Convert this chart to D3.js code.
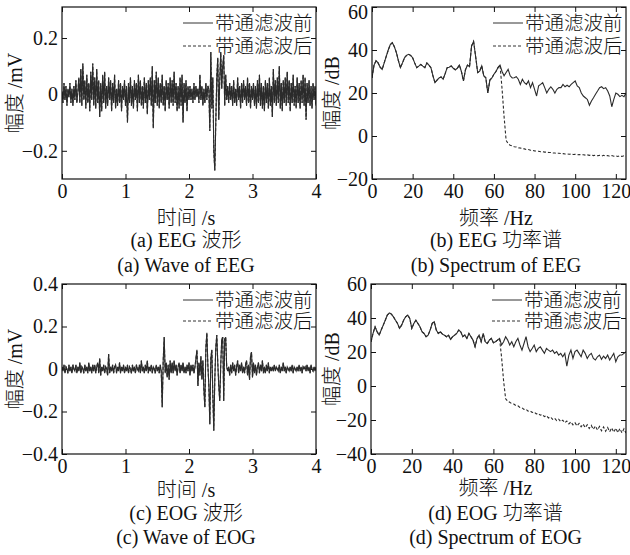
<!DOCTYPE html>
<html lang="zh">
<head>
<meta charset="UTF-8">
<title>EEG / EOG 带通滤波前后</title>
<style>
  body { margin: 0; background: #fff; }
  svg { display: block; }
  text { font-family: "Liberation Serif", "Times New Roman", "Noto Sans CJK SC", serif; font-weight: 300; fill: #111; }
</style>
</head>
<body>
<svg width="630" height="555"></svg>
<script src="https://d3js.org/d3.v7.min.js"></script>
<script>
// ---- data ----
const legendLabels = ["带通滤波前", "带通滤波后"];

// time axis: 4 s, samples read at 1/64 s
const waveDuration = 4;

// (a) EEG waveform, mV
const eegWave = [
  0.01,-0.03,0.04,-0.02,0.03,-0.04,0.02,-0.01,0.04,-0.03,0.02,-0.04,0.03,-0.02,0.05,-0.03,0.01,
  0.06,-0.03,0.09,-0.04,0.11,-0.02,0.05,-0.05,0.07,-0.03,0.04,-0.06,0.08,-0.02,0.11,-0.04,0.06,-0.05,0.09,-0.03,0.05,-0.08,
  0.04,-0.06,0.07,-0.03,0.08,-0.05,0.03,-0.04,0.06,-0.02,0.05,-0.06,0.04,-0.03,0.07,-0.05,0.02,-0.04,0.05,-0.03,0.04,-0.06,0.03,-0.02,0.05,-0.04,
  0.03,-0.10,0.04,-0.03,0.06,-0.04,0.03,-0.05,0.05,-0.02,0.04,-0.06,0.07,-0.03,0.05,-0.04,0.03,-0.05,0.06,-0.03,0.04,-0.07,0.05,-0.02,0.06,-0.04,0.10,-0.12,0.05,-0.03,0.08,-0.04,
  0.06,-0.05,0.04,-0.03,0.07,-0.04,0.03,-0.06,0.05,-0.02,0.04,-0.05,0.06,-0.03,0.05,-0.04,0.08,-0.03,0.04,-0.06,0.03,-0.05,0.06,-0.04,0.07,-0.10,0.04,-0.03,0.05,-0.06,0.03,-0.02,
  0.03,-0.02,0.02,-0.03,0.04,-0.02,0.03,-0.01,0.02,-0.03,0.07,-0.02,0.03,-0.04,0.02,-0.03,0.04,-0.02,0.03,
  0.02,-0.13,0.15,-0.05,0.06,-0.20,-0.27,-0.10,0.06,0.13,-0.09,0.05,0.15,0.02,0.10,0.14,-0.04,0.07,-0.02,0.03,
  -0.03,0.04,-0.02,0.03,-0.04,0.05,-0.03,0.02,-0.04,0.06,-0.02,0.03,-0.05,0.04,-0.03,0.05,-0.02,0.03,-0.04,0.06,-0.03,0.04,-0.05,0.03,-0.02,
  0.04,-0.04,0.03,-0.05,0.05,-0.03,0.07,-0.04,0.04,-0.05,0.03,-0.06,0.05,-0.03,0.04,-0.05,0.06,-0.04,0.03,-0.08,0.09,-0.03,0.05,-0.04,0.06,-0.03,0.10,-0.05,0.04,-0.06,0.05,-0.03,
  0.06,-0.04,0.08,-0.03,0.05,-0.06,0.04,-0.03,0.07,-0.04,0.03,-0.05,0.06,-0.03,0.04,-0.05,0.05,-0.03,0.07,-0.04,0.06,-0.09,0.04,-0.03,0.05,-0.04,0.03,-0.05,0.04,-0.02,0.03,-0.04
];
// after filtering the trace lies on top of the original at this scale
const eegWaveFiltered = eegWave;

// (c) EOG waveform, mV
const eogWave = [
  0.01,-0.01,0.02,-0.02,0.01,0.00,-0.02,0.02,-0.01,0.01,-0.02,0.02,0.00,-0.01,0.02,-0.02,0.01,-0.01,0.03,-0.02,0.01,0.00,-0.02,0.02,-0.01,0.01,-0.02,0.03,-0.01,0.01,-0.02,0.02,
  -0.01,0.02,-0.02,0.01,0.03,-0.02,0.05,-0.03,0.01,-0.01,0.02,-0.02,0.01,0.00,-0.03,0.07,-0.02,0.01,-0.01,0.02,-0.02,0.01,0.02,-0.02,0.01,-0.01,0.03,-0.02,0.01,-0.01,0.02,-0.02,
  0.01,-0.01,0.02,-0.02,0.01,0.00,-0.02,0.02,-0.01,0.01,-0.02,0.02,0.00,-0.01,0.02,-0.02,0.04,-0.01,0.01,-0.02,0.02,-0.01,0.04,-0.02,0.01,-0.01,0.02,-0.02,0.01,0.00,-0.02,0.02,
  -0.01,0.01,-0.02,0.02,-0.01,-0.18,0.04,0.15,-0.02,0.03,-0.04,0.02,-0.05,0.04,-0.02,0.03,
  -0.02,0.04,-0.01,0.02,-0.03,0.01,0.03,-0.02,0.02,-0.01,0.03,-0.02,0.01,-0.02,0.02,-0.01,0.03,-0.03,0.02,-0.01,0.02,-0.02,0.01,
  0.05,0.09,-0.08,0.03,-0.03,0.06,-0.05,0.04,-0.10,-0.18,0.10,0.17,0.02,-0.08,-0.26,0.05,0.09,-0.12,-0.29,-0.05,0.10,0.16,0.03,-0.08,-0.15,0.02,0.14,0.15,-0.15,0.14,0.15,0.01,-0.01,
  0.01,-0.03,0.02,-0.02,0.03,-0.01,0.02,-0.03,0.01,0.04,-0.02,0.02,-0.01,0.03,-0.02,0.01,-0.02,0.02,0.04,-0.03,0.02,-0.05,0.06,0.08,-0.04,0.03,-0.02,0.02,-0.03,0.01,0.03,-0.02,0.02,-0.01,0.04,-0.02,0.01,-0.02,0.02,-0.01,0.03,-0.02,0.01,-0.01,
  0.01,-0.01,0.02,-0.01,0.01,0.00,-0.01,0.02,-0.02,0.01,-0.01,0.03,-0.01,0.01,-0.02,0.01,0.00,-0.01,0.01,-0.01,0.02,-0.02,0.01,0.00,-0.01,0.01,-0.01,0.02,-0.01,0.01,-0.02,0.01,0.00,0.01,-0.01,0.02,-0.01,0.01,-0.02,0.02,0.00,-0.01,0.01,-0.01,0.01
];
const eogWaveFiltered = eogWave;

// spectra: one value per Hz, 0..125 Hz, dB
const eegSpec = [
  27,33,35,34,32,31,34,37,40,42.5,
  43.4,41.5,38.8,35,31.8,34,36.4,37.5,38,37.5,
  36.4,34,31.8,32.5,33.3,32.5,31.8,34,33,31.8,
  28,24.8,26,27,27.5,26.4,29,31.8,32,32.6,
  31.5,30.8,31.5,33,30,25.6,30.8,33,32.2,41.9,
  44,37,29.5,30.2,32.6,28,27.1,20,26,27,
  28.7,30,31.8,33,30,28,29.5,31,28,27,
  27.1,27.6,26.4,24,26.4,24.8,24,25.6,22.5,24.8,
  21.7,18.6,23.3,24,24.8,22.5,20,21.7,22.9,21.7,
  20,21.7,22.5,22.5,24,22.9,23.6,22.9,24,24.8,
  25.6,23.3,22.5,20,18.6,17.8,17,14.3,16.3,17.8,
  19.4,20.9,22.5,22.9,22,22.5,20.9,18.6,13.6,17,
  20,19.4,18.3,18.9,18.3,20
];
// filtered spectrum follows the original up to 63 Hz, then from 64 Hz:
const eegSpecFilteredTail = [
  22,9,-2,-3.6,-4.3,-4.6,-5.0,-5.1,-5.5,-5.6,-5.9,-6.0,-6.3,-6.3,-6.6,-6.7,
  -6.9,-7.0,-7.1,-7.3,-7.3,-7.5,-7.5,-7.7,-7.7,-7.9,-7.9,-8.1,-8.0,-8.2,-8.2,-8.4,
  -8.3,-8.5,-8.4,-8.6,-8.5,-8.7,-8.6,-8.8,-8.7,-8.9,-8.8,-9.0,-8.8,-9.1,-8.9,-9.2,
  -9.0,-9.3,-9.0,-9.3,-9.1,-9.4,-9.1,-9.4,-9.2,-9.5,-9.2,-9.5,-9.2,-9.4
];

const eogSpec = [
  26,31,34.8,31.9,30,32.9,35.8,38.7,41.7,43,
  42.3,40.7,38.7,36.8,33.9,35.8,38.7,40.7,41.7,39.7,
  33.9,36.8,38.7,36.8,34.8,31.9,30.9,29,29.9,32.9,
  36.8,37.8,32.9,30.9,31.9,30.5,29.9,29,29.9,27.4,
  29,29.9,30.9,32.9,31.9,29,29.9,28,30.9,29,
  27,23.1,28,29.9,26,30.9,26,25,27,28,
  25.4,26,27,28,24.1,26,29,27,24.1,26,
  23.1,26,28,24.1,21.1,25,29,23.1,20.2,22.1,
  24.1,20.2,22.1,23.1,21.1,19.2,22.1,21.1,20.2,21.1,
  19.2,20.2,18.2,19.2,17.2,19.2,11.7,18.2,21.1,16.2,
  20.2,21.1,19.2,17.2,21.1,19.2,16.2,18.2,19.2,16.2,
  15.3,17.2,18.2,15.7,17.6,16.2,18.2,15.3,17.2,19.2,
  14.3,17.2,18.2,18.2,19.2,20.2
];
const eogSpecFilteredTail = [
  17,3,-7.5,-8.9,-9.6,-10.4,-10.6,-11.5,-11.7,-12.6,-12.8,-13.8,-13.7,-14.8,-14.6,-15.6,
  -15.3,-16.4,-16.1,-17.2,-16.8,-18.0,-17.5,-18.8,-18.2,-19.6,-18.9,-20.3,-19.5,-21.0,-20.1,-21.6,
  -20.6,-22.3,-21.1,-22.9,-21.6,-23.5,-22.0,-24.0,-22.4,-24.5,-22.8,-25.0,-23.2,-25.5,-23.5,-25.9,
  -23.8,-26.3,-24.1,-26.6,-24.4,-26.9,-24.6,-27.2,-24.8,-27.4,-25.0,-27.6,-25.2,-27.7
];
const filterCutHz = 64;

const timeTicks = [0, 1, 2, 3, 4];
const freqTicks = [0, 20, 40, 60, 80, 100, 120];
const eegWaveTicks = [-0.2, 0, 0.2];
const eogWaveTicks = [-0.4, -0.2, 0, 0.2, 0.4];
const eegSpecTicks = [-20, 0, 20, 40, 60];
const eogSpecTicks = [-40, -20, 0, 20, 40, 60];

// ---- build ----
const svg = d3.select("svg");
const lineColor = "#2b2b2b";

const waveTimes = arr => arr.map((_, i) => i * waveDuration / (arr.length - 1));
const specFreqs = arr => arr.map((_, i) => i);

const panels = [
  {
    id: "a", box: [62, 7, 316, 179], xDomain: [0, 4], yDomain: [-0.3, 0.31],
    xTicks: timeTicks, yTicks: eegWaveTicks,
    xs: waveTimes(eegWave), before: eegWave, after: eegWaveFiltered,
    xsAfter: waveTimes(eegWaveFiltered),
    xlabel: "时间 /s", ylabel: "幅度 /mV", ylabelX: 15,
    titles: ["(a) EEG 波形", "(a) Wave of EEG"], textY: [218, 240, 265], legendY: [23, 46]
  },
  {
    id: "b", box: [372, 7, 626, 179], xDomain: [0, 125], yDomain: [-20, 60],
    xTicks: freqTicks, yTicks: eegSpecTicks,
    xs: specFreqs(eegSpec), before: eegSpec,
    after: eegSpec.slice(0, filterCutHz).concat(eegSpecFilteredTail),
    xlabel: "频率 /Hz", ylabel: "幅度 /dB", ylabelX: 332,
    titles: ["(b) EEG 功率谱", "(b) Spectrum of EEG"], textY: [218, 240, 265], legendY: [23, 46]
  },
  {
    id: "c", box: [62, 284, 316, 454], xDomain: [0, 4], yDomain: [-0.4, 0.4],
    xTicks: timeTicks, yTicks: eogWaveTicks,
    xs: waveTimes(eogWave), before: eogWave, after: eogWaveFiltered,
    xsAfter: waveTimes(eogWaveFiltered),
    xlabel: "时间 /s", ylabel: "幅度 /mV", ylabelX: 15,
    titles: ["(c) EOG 波形", "(c) Wave of EOG"], textY: [490, 513, 537], legendY: [300, 321]
  },
  {
    id: "d", box: [371, 284, 626, 454], xDomain: [0, 125], yDomain: [-40, 60],
    xTicks: freqTicks, yTicks: eogSpecTicks,
    xs: specFreqs(eogSpec), before: eogSpec,
    after: eogSpec.slice(0, filterCutHz).concat(eogSpecFilteredTail),
    xlabel: "频率 /Hz", ylabel: "幅度 /dB", ylabelX: 332,
    titles: ["(d) EOG 功率谱", "(d) Spectrum of EOG"], textY: [488, 513, 537], legendY: [300, 321]
  }
];

panels.forEach(p => {
  const [x0, y0, x1, y1] = p.box;
  const x = d3.scaleLinear().domain(p.xDomain).range([x0, x1]);
  const y = d3.scaleLinear().domain(p.yDomain).range([y1, y0]);
  const g = svg.append("g");
  const fmt = d3.format("~g");

  g.append("clipPath").attr("id", "clip-" + p.id)
    .append("rect").attr("x", x0).attr("y", y0).attr("width", x1 - x0).attr("height", y1 - y0);

  // axes, ticks pointing inward on all four sides
  const styleAxis = sel => {
    sel.select(".domain").remove();
    sel.selectAll(".tick line").attr("stroke", "#111");
    sel.selectAll(".tick text").style("font-size", "20px").attr("fill", "#111");
  };
  g.append("g").attr("transform", `translate(0,${y1})`)
    .call(d3.axisBottom(x).tickValues(p.xTicks).tickFormat(fmt).tickSize(-5).tickPadding(5))
    .call(styleAxis);
  g.append("g").attr("transform", `translate(0,${y0})`)
    .call(d3.axisTop(x).tickValues(p.xTicks).tickFormat("").tickSize(-5))
    .call(styleAxis);
  const yAx = g.append("g").attr("transform", `translate(${x0},0)`)
    .call(d3.axisLeft(y).tickValues(p.yTicks).tickFormat(fmt).tickSize(-5).tickPadding(4))
    .call(styleAxis);
  // keep a label sitting on the very top edge inside the page
  yAx.selectAll(".tick").filter(d => y(d) < 10).select("text").attr("dy", "0.55em");
  g.append("g").attr("transform", `translate(${x1},0)`)
    .call(d3.axisRight(y).tickValues(p.yTicks).tickFormat("").tickSize(-5))
    .call(styleAxis);

  // curves
  const xsA = p.xsAfter || p.xs;
  const lineB = d3.line().x((d, i) => x(p.xs[i])).y(d => y(d));
  const lineA = d3.line().x((d, i) => x(xsA[i])).y(d => y(d));
  const plot = g.append("g").attr("clip-path", `url(#clip-${p.id})`);
  plot.append("path").datum(p.before).attr("d", lineB)
    .attr("fill", "none").attr("stroke", lineColor).attr("stroke-width", 1.1);
  plot.append("path").datum(p.after).attr("d", lineA)
    .attr("fill", "none").attr("stroke", lineColor).attr("stroke-width", 1.1)
    .attr("stroke-dasharray", "3,2");

  // frame
  g.append("rect").attr("x", x0).attr("y", y0).attr("width", x1 - x0).attr("height", y1 - y0)
    .attr("fill", "none").attr("stroke", "#111").attr("stroke-width", 1.2);

  // legend
  const lg = g.append("g");
  legendLabels.forEach((lab, k) => {
    const ly = p.legendY[k];
    lg.append("line").attr("x1", x0 + 121).attr("x2", x0 + 151).attr("y1", ly).attr("y2", ly)
      .attr("stroke", "#333").attr("stroke-width", 1)
      .attr("stroke-dasharray", k === 1 ? "3,2" : null);
    lg.append("text").attr("x", x0 + 153).attr("y", ly).attr("dy", "0.35em")
      .style("font-size", "19.5px").text(lab);
  });

  // labels and captions
  const cx = (x0 + x1) / 2;
  g.append("text").attr("x", cx - 3).attr("y", p.textY[0]).attr("dy", "0.35em")
    .attr("text-anchor", "middle").style("font-size", "20px").text(p.xlabel);
  p.titles.forEach((t, k) => {
    g.append("text").attr("x", cx - 3).attr("y", p.textY[k + 1]).attr("dy", "0.35em")
      .attr("text-anchor", "middle").style("font-size", "20px").text(t);
  });
  g.append("text")
    .attr("transform", `translate(${p.ylabelX},${(y0 + y1) / 2}) rotate(-90)`)
    .attr("dy", "0.35em").attr("text-anchor", "middle").style("font-size", "20px").text(p.ylabel);
});
</script>
</body>
</html>
